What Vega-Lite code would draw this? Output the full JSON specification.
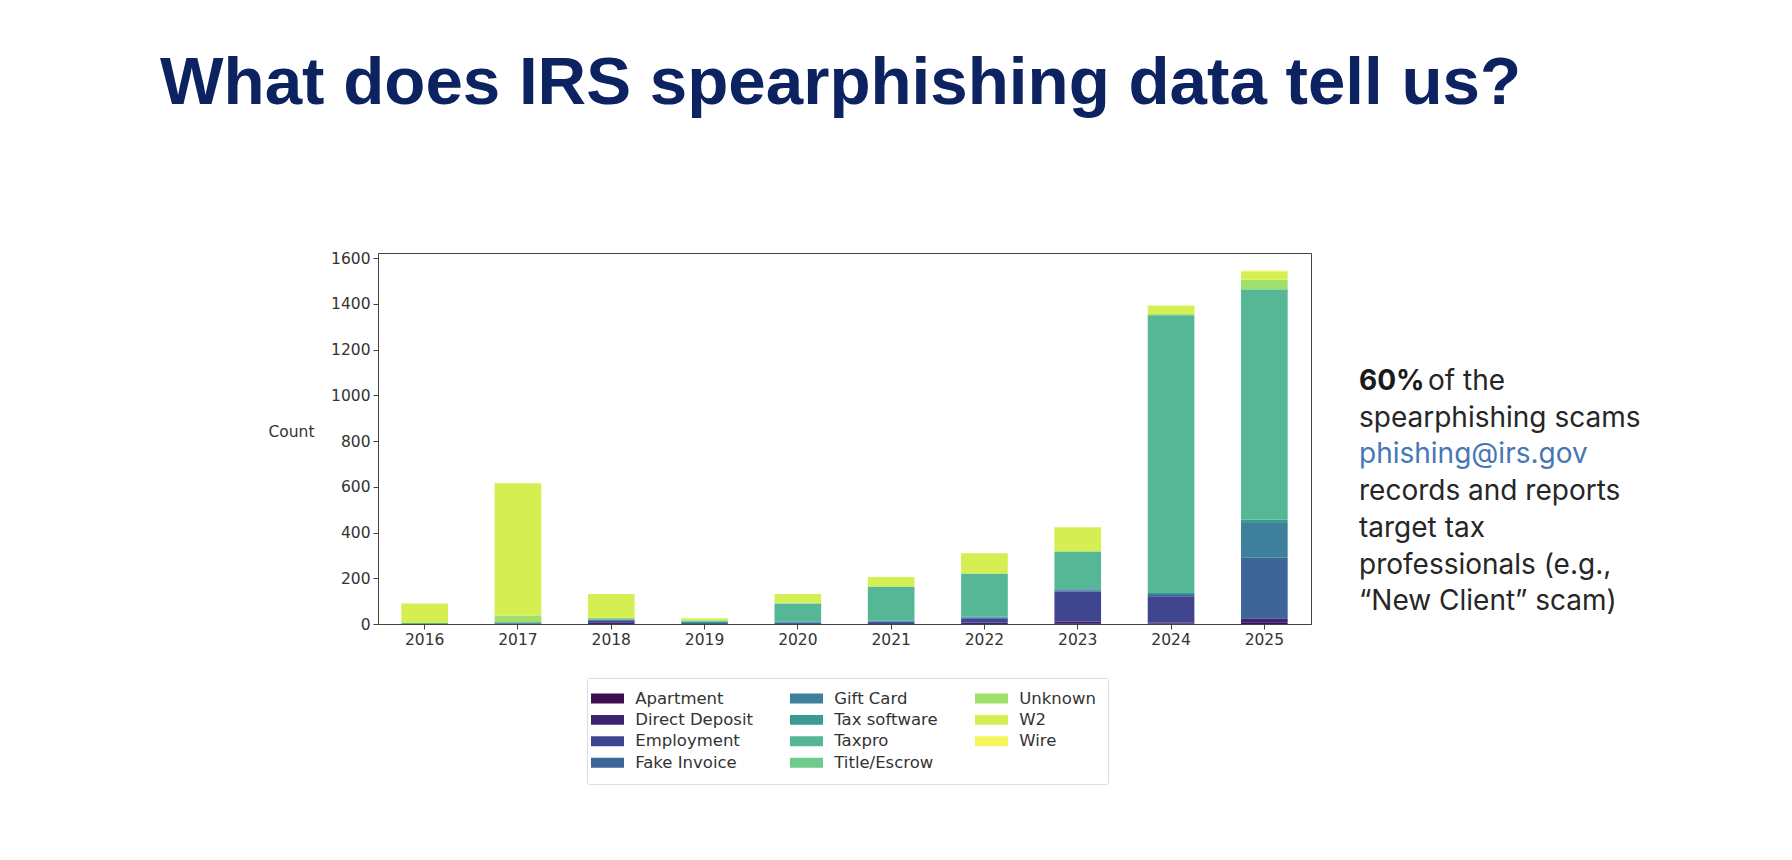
{
  "$schema": "https://vega.github.io/schema/vega-lite/v6.json",
  "background": "white",
  "padding": {"left": 160, "top": 50, "right": 0, "bottom": 0},
  "title": {
    "text": "What does IRS spearphishing data tell us?",
    "anchor": "start",
    "frame": "group",
    "font": "Liberation Sans",
    "fontSize": 67.3,
    "fontWeight": "bold",
    "color": "#0c2261",
    "dx": -218,
    "offset": 79,
    "baseline": "alphabetic"
  },
  "datasets": {
    "counts": [
      {"year": 2016, "type": "Taxpro", "count": 4},
      {"year": 2016, "type": "W2", "count": 86},
      {"year": 2017, "type": "Fake Invoice", "count": 3},
      {"year": 2017, "type": "Tax software", "count": 5},
      {"year": 2017, "type": "Unknown", "count": 29},
      {"year": 2017, "type": "W2", "count": 578},
      {"year": 2018, "type": "Direct Deposit", "count": 8},
      {"year": 2018, "type": "Employment", "count": 6},
      {"year": 2018, "type": "Fake Invoice", "count": 5},
      {"year": 2018, "type": "Taxpro", "count": 6},
      {"year": 2018, "type": "W2", "count": 106},
      {"year": 2019, "type": "Fake Invoice", "count": 4},
      {"year": 2019, "type": "Tax software", "count": 6},
      {"year": 2019, "type": "Taxpro", "count": 5},
      {"year": 2019, "type": "W2", "count": 10},
      {"year": 2020, "type": "Fake Invoice", "count": 5},
      {"year": 2020, "type": "Gift Card", "count": 5},
      {"year": 2020, "type": "Taxpro", "count": 80},
      {"year": 2020, "type": "Unknown", "count": 3},
      {"year": 2020, "type": "W2", "count": 38},
      {"year": 2021, "type": "Employment", "count": 4},
      {"year": 2021, "type": "Fake Invoice", "count": 6},
      {"year": 2021, "type": "Gift Card", "count": 4},
      {"year": 2021, "type": "Taxpro", "count": 148},
      {"year": 2021, "type": "Unknown", "count": 3},
      {"year": 2021, "type": "W2", "count": 40},
      {"year": 2022, "type": "Direct Deposit", "count": 5},
      {"year": 2022, "type": "Employment", "count": 18},
      {"year": 2022, "type": "Fake Invoice", "count": 5},
      {"year": 2022, "type": "Gift Card", "count": 4},
      {"year": 2022, "type": "Taxpro", "count": 187},
      {"year": 2022, "type": "Unknown", "count": 3},
      {"year": 2022, "type": "W2", "count": 87},
      {"year": 2023, "type": "Apartment", "count": 3},
      {"year": 2023, "type": "Direct Deposit", "count": 7},
      {"year": 2023, "type": "Employment", "count": 131},
      {"year": 2023, "type": "Fake Invoice", "count": 5},
      {"year": 2023, "type": "Gift Card", "count": 6},
      {"year": 2023, "type": "Tax software", "count": 4},
      {"year": 2023, "type": "Taxpro", "count": 160},
      {"year": 2023, "type": "Unknown", "count": 3},
      {"year": 2023, "type": "W2", "count": 104},
      {"year": 2024, "type": "Apartment", "count": 2},
      {"year": 2024, "type": "Direct Deposit", "count": 4},
      {"year": 2024, "type": "Employment", "count": 115},
      {"year": 2024, "type": "Fake Invoice", "count": 6},
      {"year": 2024, "type": "Gift Card", "count": 4},
      {"year": 2024, "type": "Tax software", "count": 4},
      {"year": 2024, "type": "Taxpro", "count": 1215},
      {"year": 2024, "type": "Unknown", "count": 6},
      {"year": 2024, "type": "W2", "count": 37},
      {"year": 2025, "type": "Apartment", "count": 8},
      {"year": 2025, "type": "Direct Deposit", "count": 14},
      {"year": 2025, "type": "Employment", "count": 3},
      {"year": 2025, "type": "Fake Invoice", "count": 265},
      {"year": 2025, "type": "Gift Card", "count": 152},
      {"year": 2025, "type": "Tax software", "count": 15},
      {"year": 2025, "type": "Taxpro", "count": 1005},
      {"year": 2025, "type": "Title/Escrow", "count": 3},
      {"year": 2025, "type": "Unknown", "count": 40},
      {"year": 2025, "type": "W2", "count": 36},
      {"year": 2025, "type": "Wire", "count": 5}
    ],
    "notes": [
      {"line": 1, "segment": "figure", "text": "60%"},
      {"line": 1, "segment": "lead", "text": "of the"},
      {"line": 2, "segment": "body", "text": "spearphishing scams"},
      {"line": 3, "segment": "link", "text": "phishing@irs.gov"},
      {"line": 4, "segment": "body", "text": "records and reports"},
      {"line": 5, "segment": "body", "text": "target tax"},
      {"line": 6, "segment": "body", "text": "professionals (e.g.,"},
      {"line": 7, "segment": "body", "text": "“New Client” scam)"}
    ]
  },
  "hconcat": [
    {
      "width": 933,
      "height": 371,
      "view": {"stroke": "#444444", "strokeWidth": 1},
      "data": {"name": "counts"},
      "mark": {"type": "bar"},
      "encoding": {
        "x": {
          "field": "year",
          "type": "ordinal",
          "scale": {"paddingInner": 0.5, "paddingOuter": 0.25},
          "axis": {"title": null, "labelAngle": 0}
        },
        "y": {
          "field": "count",
          "type": "quantitative",
          "stack": "zero",
          "scale": {"domain": [0, 1622], "nice": false},
          "axis": {
            "title": "Count",
            "format": "d",
            "values": [0, 200, 400, 600, 800, 1000, 1200, 1400, 1600],
            "grid": false,
            "titleAngle": 0,
            "titleAlign": "right",
            "titleBaseline": "middle",
            "titleX": -64,
            "titleY": 178
          }
        },
        "color": {
          "field": "type",
          "type": "nominal",
          "scale": {
            "domain": ["Apartment", "Direct Deposit", "Employment", "Fake Invoice", "Gift Card", "Tax software", "Taxpro", "Title/Escrow", "Unknown", "W2", "Wire"],
            "range": ["#3d0d4e", "#3d2371", "#404590", "#3d6598", "#3e7f9b", "#3a9b93", "#55b796", "#6ecb8a", "#9fdf6c", "#d5ef52", "#f6f65a"]
          },
          "legend": {
            "title": null,
            "orient": "none",
            "legendX": 209,
            "legendY": 425,
            "columns": 3,
            "symbolType": "M-2,-0.6H2V0.6H-2Z",
            "symbolSize": 272.25,
            "symbolStrokeWidth": 0,
            "symbolOpacity": 1,
            "labelFont": "DejaVu Sans",
            "labelFontSize": 16.5,
            "labelColor": "#333333",
            "labelOffset": 19.25,
            "columnPadding": 37,
            "rowPadding": 4.4,
            "padding": 12,
            "strokeColor": "#dddddd",
            "fillColor": "white",
            "cornerRadius": 2
          }
        },
        "order": {"field": "type", "sort": "ascending"}
      }
    },
    {
      "width": 300,
      "height": 371,
      "view": {"stroke": null},
      "data": {"name": "notes"},
      "encoding": {
        "x": {"datum": 0, "type": "quantitative", "scale": {"domain": [0, 1]}, "axis": null},
        "y": {
          "field": "line",
          "type": "quantitative",
          "scale": {"domain": [-2.733, 7.376], "reverse": true, "nice": false, "zero": false},
          "axis": null
        },
        "text": {"field": "text"}
      },
      "layer": [
        {
          "transform": [{"filter": "datum.segment === 'figure'"}],
          "mark": {"type": "text", "align": "left", "baseline": "alphabetic", "font": "Inter", "fontSize": 28, "fontWeight": "bold", "color": "#1a1a1a"}
        },
        {
          "transform": [{"filter": "datum.segment === 'lead'"}],
          "mark": {"type": "text", "align": "left", "baseline": "alphabetic", "font": "Inter", "fontSize": 28, "color": "#262626", "dx": 69}
        },
        {
          "transform": [{"filter": "datum.segment === 'body'"}],
          "mark": {"type": "text", "align": "left", "baseline": "alphabetic", "font": "Inter", "fontSize": 28, "color": "#262626"}
        },
        {
          "transform": [{"filter": "datum.segment === 'link'"}],
          "mark": {"type": "text", "align": "left", "baseline": "alphabetic", "font": "Inter", "fontSize": 28, "color": "#4677b4"}
        }
      ]
    }
  ],
  "spacing": 48,
  "bounds": "flush",
  "config": {
    "view": {"stroke": null},
    "axis": {
      "labelFont": "DejaVu Sans",
      "labelFontSize": 15.5,
      "labelColor": "#333333",
      "titleFont": "DejaVu Sans",
      "titleFontSize": 15.5,
      "titleFontWeight": "normal",
      "titleColor": "#333333",
      "tickColor": "#444444",
      "tickSize": 5,
      "domainColor": "#444444",
      "labelPadding": 3,
      "zindex": 1
    }
  }
}
